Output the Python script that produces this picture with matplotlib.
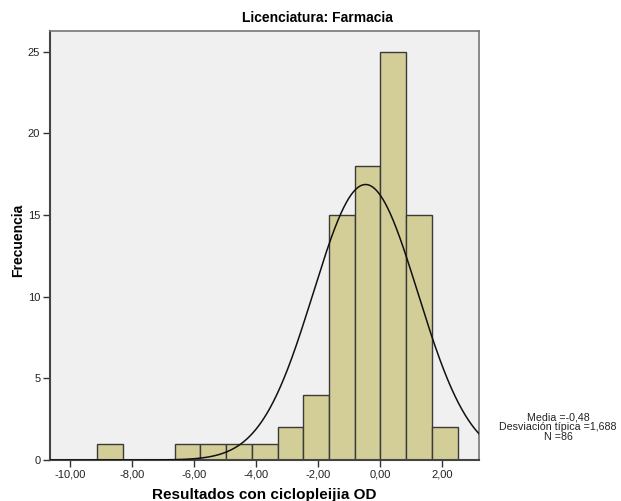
import numpy as np
import matplotlib
matplotlib.use("Agg")
import matplotlib.pyplot as plt

plt.rcParams['font.family'] = ['Liberation Sans', 'DejaVu Sans']

# Histogram of refraction results (bin edges and counts per bin)
bin_edges = [-9.13, -8.30, -7.47, -6.64, -5.81, -4.98, -4.15, -3.32,
             -2.49, -1.66, -0.83, 0.00, 0.83, 1.66, 2.49]
counts = [1, 0, 0, 1, 1, 1, 1, 2, 4, 15, 18, 25, 15, 2]

mean_val = -0.48
std_val = 1.688
n_val = 86

x_ticks = [-10, -8, -6, -4, -2, 0, 2]
x_tick_labels = ["-10,00", "-8,00", "-6,00", "-4,00", "-2,00", "0,00", "2,00"]
y_ticks = [0, 5, 10, 15, 20, 25]

title = "Licenciatura: Farmacia"
x_label = "Resultados con ciclopleijia OD"
y_label = "Frecuencia"
stats_lines = ["Media =-0,48", "Desviación típica =1,688", "N =86"]

fig = plt.figure(figsize=(6.21, 5.01), dpi=100)
ax = fig.add_axes([50 / 621, 1 - 460 / 501, 429 / 621, 429 / 501])
ax.set_facecolor("#F0F0F0")

edges = np.array(bin_edges)
lefts = edges[:-1]
widths = np.diff(edges)
for left, w, c in zip(lefts, widths, counts):
    if c > 0:
        ax.bar(left, c, width=w, align="edge", color="#D3CE97",
               edgecolor="#3A3A3A", linewidth=1.0, zorder=2)

# Normal curve scaled to counts
bw = float(np.mean(widths))
xs = np.linspace(-10.66, 3.18, 600)
ys = n_val * bw / (std_val * np.sqrt(2 * np.pi)) * np.exp(-0.5 * ((xs - mean_val) / std_val) ** 2)
ax.plot(xs, ys, color="#111111", linewidth=1.1, zorder=3)

ax.set_xlim(-10.66, 3.18)
ax.set_ylim(0, 26.27)
ax.set_xticks(x_ticks)
ax.set_xticklabels(x_tick_labels)
ax.set_yticks(y_ticks)
ax.tick_params(axis="both", direction="out", length=5, width=1.0,
               color="#333333", labelsize=8, labelcolor="#222222", pad=2)

for side in ["left", "bottom"]:
    ax.spines[side].set_color("#444444")
    ax.spines[side].set_linewidth(1.5)
for side in ["right", "top"]:
    ax.spines[side].set_color("#777777")
    ax.spines[side].set_linewidth(1.2)

ax.set_xlabel(x_label, fontsize=11, fontweight="bold", labelpad=6)
ax.set_ylabel(y_label, fontsize=10, fontweight="bold")
ax.yaxis.set_label_coords(-0.058, 0.513)

fig.text(317 / 621, 1 - 18 / 501, title, fontsize=10, fontweight="bold",
         ha="center", va="center")

fig.text(558 / 621, 1 - 427 / 501, "\n".join(stats_lines), fontsize=7.7,
         ha="center", va="center", linespacing=0.95, color="#222222")

fig.savefig("out.png", dpi=100)
